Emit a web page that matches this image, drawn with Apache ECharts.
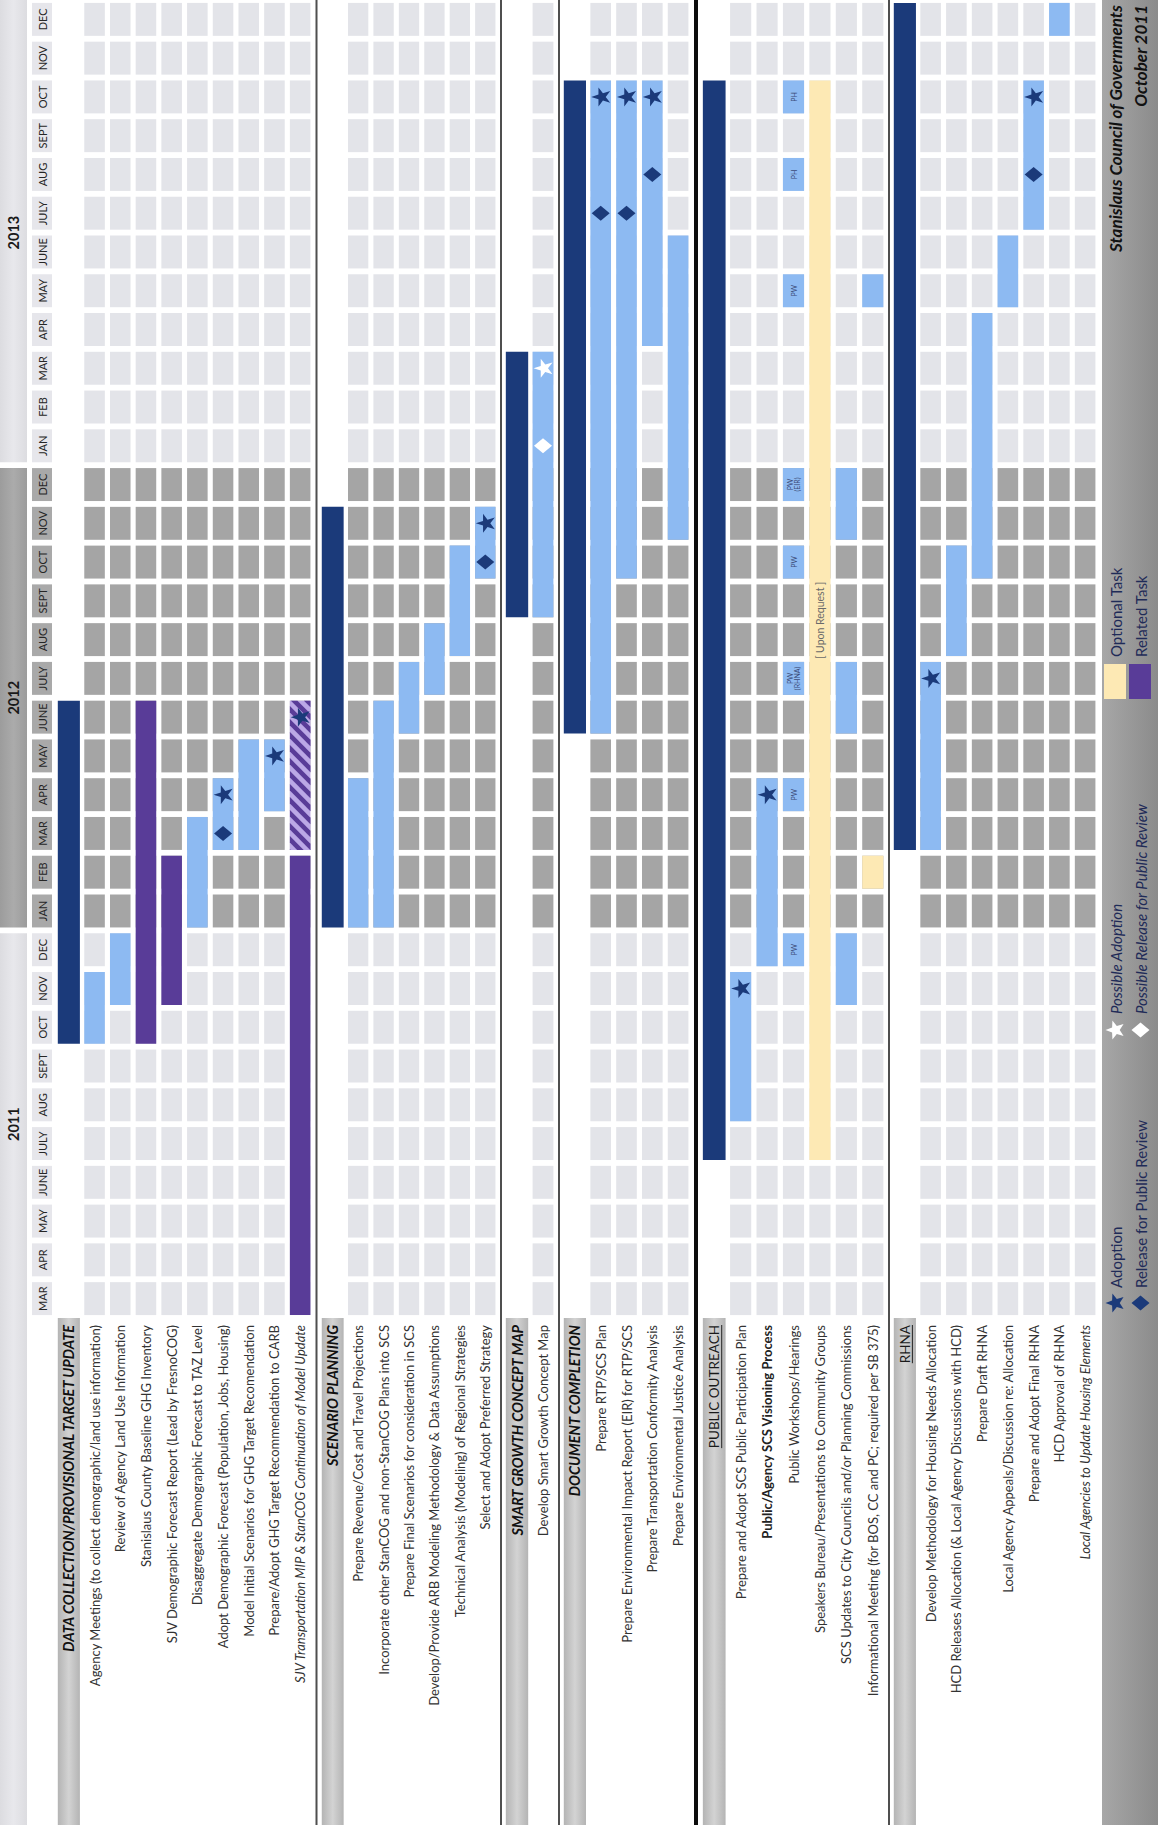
<!DOCTYPE html>
<html>
<head>
<meta charset="utf-8">
<title>SCS / RTP Schedule</title>
<script src="https://cdn.jsdelivr.net/npm/echarts@6.0.0/dist/echarts.min.js"></script>
<style>
html,body{margin:0;padding:0;background:#ffffff;}
#chart{width:1164px;height:1825px;}
</style>
</head>
<body>
<div id="chart"></div>
<script>
// ================= DATA =================
const months = [
  'MAR 2011','APR 2011','MAY 2011','JUNE 2011','JULY 2011','AUG 2011','SEPT 2011','OCT 2011','NOV 2011','DEC 2011',
  'JAN 2012','FEB 2012','MAR 2012','APR 2012','MAY 2012','JUNE 2012','JULY 2012','AUG 2012','SEPT 2012','OCT 2012','NOV 2012','DEC 2012',
  'JAN 2013','FEB 2013','MAR 2013','APR 2013','MAY 2013','JUNE 2013','JULY 2013','AUG 2013','SEPT 2013','OCT 2013','NOV 2013','DEC 2013'
];
const years = ['2011','2012','2013'];

const dataCollectionTasks = [
  'DATA COLLECTION/PROVISIONAL TARGET UPDATE',
  'Agency Meetings (to collect demographic/land use information)',
  'Review of Agency Land Use Information',
  'Stanislaus County Baseline GHG Inventory',
  'SJV Demographic Forecast Report (Lead by FresnoCOG)',
  'Disaggregate Demographic Forecast to TAZ Level',
  'Adopt Demographic Forecast (Population, Jobs, Housing)',
  'Model Initial Scenarios for GHG Target Recomendation',
  'Prepare/Adopt GHG Target Recommendation to CARB',
  'SJV Transportation MIP & StanCOG Continuation of Model Update'
];
const scenarioTasks = [
  'SCENARIO PLANNING',
  'Prepare Revenue/Cost and Travel Projections',
  'Incorporate other StanCOG and non-StanCOG Plans into SCS',
  'Prepare Final Scenarios for consideration in SCS',
  'Develop/Provide ARB Modeling Methodology & Data Assumptions',
  'Technical Analysis (Modeling) of Regional Strategies',
  'Select and Adopt Preferred Strategy'
];
const smartGrowthTasks = [
  'SMART GROWTH CONCEPT MAP',
  'Develop Smart Growth Concept Map'
];
const documentTasks = [
  'DOCUMENT COMPLETION',
  'Prepare RTP/SCS Plan',
  'Prepare Environmental Impact Report (EIR) for RTP/SCS',
  'Prepare Transportation Conformity Analysis',
  'Prepare Environmental Justice Analysis'
];
const outreachTasks = [
  'PUBLIC OUTREACH',
  'Prepare and Adopt SCS Public Participation Plan',
  'Public/Agency SCS Visioning Process',
  'Public Workshops/Hearings',
  'Speakers Bureau/Presentations to Community Groups',
  'SCS Updates to City Councils and/or Planning Commissions',
  'Informational Meeting (for BOS, CC and PC; required per SB 375)'
];
const rhnaTasks = [
  'RHNA',
  'Develop Methodology for Housing Needs Allocation',
  'HCD Releases Allocation (& Local Agency Discussions with HCD)',
  'Prepare Draft RHNA',
  'Local Agency Appeals/Discussion re: Allocation',
  'Prepare and Adopt Final RHNA',
  'HCD Approval of RHNA',
  'Local Agencies to Update Housing Elements'
];

// section spans (dark bars in the section header column)
const phaseBars = [
  ['DATA COLLECTION/PROVISIONAL TARGET UPDATE','OCT 2011','JUNE 2012'],
  ['SCENARIO PLANNING','JAN 2012','NOV 2012'],
  ['SMART GROWTH CONCEPT MAP','SEPT 2012','MAR 2013'],
  ['DOCUMENT COMPLETION','JUNE 2012','OCT 2013'],
  ['PUBLIC OUTREACH','JULY 2011','OCT 2013'],
  ['RHNA','MAR 2012','DEC 2013']
];
// task spans
const taskBars = [
  ['Agency Meetings (to collect demographic/land use information)','OCT 2011','NOV 2011'],
  ['Review of Agency Land Use Information','NOV 2011','DEC 2011'],
  ['Disaggregate Demographic Forecast to TAZ Level','JAN 2012','MAR 2012'],
  ['Adopt Demographic Forecast (Population, Jobs, Housing)','MAR 2012','APR 2012'],
  ['Model Initial Scenarios for GHG Target Recomendation','MAR 2012','MAY 2012'],
  ['Prepare/Adopt GHG Target Recommendation to CARB','APR 2012','MAY 2012'],
  ['Prepare Revenue/Cost and Travel Projections','JAN 2012','APR 2012'],
  ['Incorporate other StanCOG and non-StanCOG Plans into SCS','JAN 2012','JUNE 2012'],
  ['Prepare Final Scenarios for consideration in SCS','JUNE 2012','JULY 2012'],
  ['Develop/Provide ARB Modeling Methodology & Data Assumptions','JULY 2012','AUG 2012'],
  ['Technical Analysis (Modeling) of Regional Strategies','AUG 2012','OCT 2012'],
  ['Select and Adopt Preferred Strategy','OCT 2012','NOV 2012'],
  ['Develop Smart Growth Concept Map','SEPT 2012','MAR 2013'],
  ['Prepare RTP/SCS Plan','JUNE 2012','OCT 2013'],
  ['Prepare Environmental Impact Report (EIR) for RTP/SCS','OCT 2012','OCT 2013'],
  ['Prepare Transportation Conformity Analysis','APR 2013','OCT 2013'],
  ['Prepare Environmental Justice Analysis','NOV 2012','JUNE 2013'],
  ['Prepare and Adopt SCS Public Participation Plan','AUG 2011','NOV 2011'],
  ['Public/Agency SCS Visioning Process','DEC 2011','APR 2012'],
  ['SCS Updates to City Councils and/or Planning Commissions','NOV 2011','DEC 2011'],
  ['SCS Updates to City Councils and/or Planning Commissions','JUNE 2012','JULY 2012'],
  ['SCS Updates to City Councils and/or Planning Commissions','NOV 2012','DEC 2012'],
  ['Informational Meeting (for BOS, CC and PC; required per SB 375)','MAY 2013','MAY 2013'],
  ['Develop Methodology for Housing Needs Allocation','MAR 2012','JULY 2012'],
  ['HCD Releases Allocation (& Local Agency Discussions with HCD)','AUG 2012','OCT 2012'],
  ['Prepare Draft RHNA','OCT 2012','APR 2013'],
  ['Local Agency Appeals/Discussion re: Allocation','MAY 2013','JUNE 2013'],
  ['Prepare and Adopt Final RHNA','JULY 2013','OCT 2013'],
  ['HCD Approval of RHNA','DEC 2013','DEC 2013']
];
// related tasks
const relatedBars = [
  ['Stanislaus County Baseline GHG Inventory','OCT 2011','JUNE 2012'],
  ['SJV Demographic Forecast Report (Lead by FresnoCOG)','NOV 2011','FEB 2012'],
  ['SJV Transportation MIP & StanCOG Continuation of Model Update','MAR 2011','FEB 2012']
];
const relatedHatchedBars = [
  ['SJV Transportation MIP & StanCOG Continuation of Model Update','MAR 2012','JUNE 2012']
];
// optional tasks
const optionalBars = [
  ['Speakers Bureau/Presentations to Community Groups','JULY 2011','OCT 2013','[ Upon Request ]'],
  ['Informational Meeting (for BOS, CC and PC; required per SB 375)','FEB 2012','FEB 2012']
];
// public workshops / hearings
const workshopTask = 'Public Workshops/Hearings';
const workshopMeetings = [
  ['DEC 2011','PW'],
  ['APR 2012','PW'],
  ['JULY 2012','PW\n(RHNA)'],
  ['OCT 2012','PW'],
  ['DEC 2012','PW\n(EIR)'],
  ['MAY 2013','PW'],
  ['AUG 2013','PH'],
  ['OCT 2013','PH']
];

// milestones
const adoptions = [
  ['Adopt Demographic Forecast (Population, Jobs, Housing)','APR 2012'],
  ['Prepare/Adopt GHG Target Recommendation to CARB','MAY 2012'],
  ['SJV Transportation MIP & StanCOG Continuation of Model Update','JUNE 2012'],
  ['Select and Adopt Preferred Strategy','NOV 2012'],
  ['Prepare RTP/SCS Plan','OCT 2013'],
  ['Prepare Environmental Impact Report (EIR) for RTP/SCS','OCT 2013'],
  ['Prepare Transportation Conformity Analysis','OCT 2013'],
  ['Prepare and Adopt SCS Public Participation Plan','NOV 2011'],
  ['Public/Agency SCS Visioning Process','APR 2012'],
  ['Develop Methodology for Housing Needs Allocation','JULY 2012'],
  ['Prepare and Adopt Final RHNA','OCT 2013']
];
const releases = [
  ['Adopt Demographic Forecast (Population, Jobs, Housing)','MAR 2012'],
  ['Select and Adopt Preferred Strategy','OCT 2012'],
  ['Prepare RTP/SCS Plan','JULY 2013'],
  ['Prepare Environmental Impact Report (EIR) for RTP/SCS','JULY 2013'],
  ['Prepare Transportation Conformity Analysis','AUG 2013'],
  ['Prepare and Adopt Final RHNA','AUG 2013']
];
const possibleAdoptions = [['Develop Smart Growth Concept Map','MAR 2013']];
const possibleReleases = [['Develop Smart Growth Concept Map','JAN 2013']];

const legendLabels = ['Adoption','Release for Public Review','Possible Adoption','Possible Release for Public Review','Optional Task','Related Task'];
const footerLines = ['Stanislaus Council of Governments','October 2011'];

// ================= LAYOUT / STYLE =================
const W = 1164, H = 1825, GRID_BOTTOM = 507;
const FONT = 'Lato, "Open Sans", "Noto Sans", sans-serif';
const sections = [dataCollectionTasks, scenarioTasks, smartGrowthTasks, documentTasks, outreachTasks, rhnaTasks];
const sectionBoxes = [[56,257],[320,178],[504,52],[562,129],[701,185],[892,206]]; // [left, width]
const shadedYear = '2012';
const NAVY = '#1b3a7a', BLUE = '#8dbaf2', PURPLE = '#593c98', LAVENDER = '#bba8e6', YELLOW = '#fde9b4';
const KIND_COLORS = [NAVY, BLUE, PURPLE, LAVENDER, YELLOW];
const CELL_LIGHT = '#e3e4e9', CELL_DARK = '#a5a5a5';
const boldHeaders = ['DATA COLLECTION/PROVISIONAL TARGET UPDATE','SCENARIO PLANNING','SMART GROWTH CONCEPT MAP','DOCUMENT COMPLETION'];
const underlinedHeaders = ['PUBLIC OUTREACH','RHNA'];
const boldTasks = ['Public/Agency SCS Visioning Process'];
const italicTasks = ['SJV Transportation MIP & StanCOG Continuation of Model Update','Local Agencies to Update Housing Elements'];
const STAR_PATH = 'path://M50,0 L61.8,35.1 L98.9,35.1 L68.9,56.8 L80.3,91.9 L50,70.2 L19.7,91.9 L31.1,56.8 L1.1,35.1 L38.2,35.1 Z';
const LABEL_SIZE = 13, HEADER_SIZE = 14.5, PLAIN_HEADER_SIZE = 13.5;

const yearOf = i => months[i].split(' ')[1];
const monthLabel = i => months[i].split(' ')[0];
function locate(task){
  for (let s = 0; s < sections.length; s++){ const k = sections[s].indexOf(task); if (k >= 0) return [s, k]; }
  throw new Error('unknown task ' + task);
}
function mIdx(m){ const i = months.indexOf(m); if (i < 0) throw new Error('unknown month ' + m); return i; }
function textWidth(str, font){ const c = document.createElement('canvas').getContext('2d'); c.font = font; return c.measureText(str).width; }

// per-section bar data: [taskIndex, fromMonth, toMonth, kind]
const barData = sections.map(() => []), barNotes = sections.map(() => []);
function addBars(list, kind){
  list.forEach(r => { const [s, k] = locate(r[0]); barData[s].push([k, mIdx(r[1]), mIdx(r[2]), kind]); barNotes[s].push(r[3] || null); });
}
addBars(phaseBars, 0); addBars(taskBars, 1); addBars(relatedBars, 2); addBars(relatedHatchedBars, 3); addBars(optionalBars, 4);
workshopMeetings.forEach(([m, t]) => { const [s, k] = locate(workshopTask); barData[s].push([k, mIdx(m), mIdx(m), 1]); barNotes[s].push(t); });

function markerData(list, s){
  return list.map(r => { const [ss, k] = locate(r[0]); return [ss, k, mIdx(r[1])]; }).filter(a => a[0] === s).map(a => [a[1], a[2]]);
}

// polygon clipping for hatch stripes
function clipPoly(poly, f){
  const out = [];
  for (let i = 0; i < poly.length; i++){
    const P = poly[i], Q = poly[(i + 1) % poly.length];
    const fp = f(P), fq = f(Q);
    if (fp >= 0) out.push(P);
    if ((fp >= 0) !== (fq >= 0)){ const t = fp / (fp - fq); out.push([P[0] + t * (Q[0] - P[0]), P[1] + t * (Q[1] - P[1])]); }
  }
  return out;
}

// ================= RENDERERS =================
function renderYear(params, api){
  const first = api.value(1), last = api.value(2), k = api.value(3);
  const sz = api.size([1, 1]);
  const pTop = api.coord([0, last]), pBot = api.coord([0, first]);
  const ch = sz[1] * 0.85;
  let top = pTop[1] - ch / 2, bottom = pBot[1] + ch / 2;
  const midY = (pTop[1] + pBot[1]) / 2;
  if (k === years.length - 1) top = 0;
  if (k === 0) bottom = api.getHeight();
  const dark = years[k] === shadedYear;
  const x0 = pTop[0] - sz[0] / 2;
  return { type: 'group', children: [
    { type: 'rect', shape: { x: x0, y: top, width: sz[0] - 1, height: bottom - top },
      style: { fill: new echarts.graphic.LinearGradient(0, 0, 1, 0, dark
        ? [{ offset: 0, color: '#9c9c9c' }, { offset: 0.5, color: '#ababab' }, { offset: 1, color: '#9c9c9c' }]
        : [{ offset: 0, color: '#dcdce0' }, { offset: 0.5, color: '#e8e8ec' }, { offset: 1, color: '#dcdce0' }]) } },
    { type: 'text', x: pTop[0] - 1, y: midY, rotation: Math.PI / 2,
      style: { text: years[k], fill: '#1a1a1a', fontSize: 14.5, fontWeight: 'bold', fontFamily: FONT, align: 'center', verticalAlign: 'middle' } }
  ]};
}
function renderMonth(params, api){
  const i = api.value(1);
  const p = api.coord([1, i]); const sz = api.size([1, 1]);
  const w = sz[0] - 8, h = sz[1] * 0.85;
  const dark = yearOf(i) === shadedYear;
  return { type: 'group', children: [
    { type: 'rect', shape: { x: p[0] - w / 2, y: p[1] - h / 2, width: w, height: h }, style: { fill: dark ? '#a9a9a9' : '#e6e6eb' } },
    { type: 'text', x: p[0] + 0.5, y: p[1], rotation: Math.PI / 2,
      style: { text: monthLabel(i), fill: '#262626', fontSize: 11, fontFamily: FONT, align: 'center', verticalAlign: 'middle' } }
  ]};
}
function makeHeaderBand(s){
  return function(params, api){
    const sz = api.size([1, 1]);
    const p = api.coord([0, 0]);
    const top = p[1] + sz[1] / 2;
    const w = sz[0] * 0.86;
    const children = [{ type: 'rect', shape: { x: p[0] - w / 2, y: top, width: w, height: api.getHeight() - top },
      style: { fill: new echarts.graphic.LinearGradient(0, 0, 1, 0, [
        { offset: 0, color: '#b4b4b4' }, { offset: 0.5, color: '#d3d3d3' }, { offset: 1, color: '#b4b4b4' }]) } }];
    const title = sections[s][0];
    if (underlinedHeaders.indexOf(title) >= 0){
      const tw = textWidth(title, PLAIN_HEADER_SIZE + 'px ' + FONT);
      children.push({ type: 'line', shape: { x1: p[0] + 7.5, y1: top + 7, x2: p[0] + 7.5, y2: top + 7 + tw },
        style: { stroke: '#222', lineWidth: 1 } });
    }
    return { type: 'group', children };
  };
}
function renderCell(params, api){
  const k = api.value(0), i = api.value(1);
  const p = api.coord([k, i]); const sz = api.size([1, 1]);
  const w = sz[0] * 0.8, h = sz[1] * 0.85;
  return { type: 'rect', shape: { x: p[0] - w / 2, y: p[1] - h / 2, width: w, height: h },
    style: { fill: yearOf(i) === shadedYear ? CELL_DARK : CELL_LIGHT } };
}
function makeBarRenderer(notes){
  return function(params, api){
    const k = api.value(0), a = api.value(1), b = api.value(2), kind = api.value(3);
    const sz = api.size([1, 1]);
    const pA = api.coord([k, a]), pB = api.coord([k, b]);
    const h = sz[1] * 0.85;
    const w = kind === 0 ? sz[0] * 0.86 : sz[0] * 0.8;
    const x0 = pA[0] - w / 2, y0 = pB[1] - h / 2, y1 = pA[1] + h / 2;
    const children = [{ type: 'rect', shape: { x: x0, y: y0, width: w, height: y1 - y0 }, style: { fill: KIND_COLORS[kind] } }];
    if (kind === 3){
      const rectPoly = [[x0, y0], [x0 + w, y0], [x0 + w, y1], [x0, y1]];
      const step = 13, sw = 6.5;
      for (let c = (y0 - (x0 + w)) - step; c <= (y1 - x0); c += step){
        let poly = clipPoly(rectPoly, q => (q[1] - q[0]) - c);
        poly = clipPoly(poly, q => c + sw - (q[1] - q[0]));
        if (poly.length >= 3) children.push({ type: 'polygon', shape: { points: poly }, style: { fill: PURPLE } });
      }
    }
    const note = notes[params.dataIndex];
    if (note){
      const big = note.indexOf('[') === 0;
      children.push({ type: 'text', x: pA[0], y: (y0 + y1) / 2, rotation: Math.PI / 2,
        style: { text: note, fill: big ? '#6a6a6a' : '#3b4b78', fontSize: big ? 10.5 : 7, lineHeight: big ? 12 : 7.5,
          fontFamily: FONT, align: 'center', verticalAlign: 'middle' } });
    }
    return { type: 'group', children };
  };
}
function starPoints(cx, cy, R, r){
  const pts = [];
  for (let j = 0; j < 10; j++){
    const ang = Math.PI + j * Math.PI / 5, rad = j % 2 === 0 ? R : r;
    pts.push([cx + rad * Math.cos(ang), cy + rad * Math.sin(ang)]);
  }
  return pts;
}
function diamondPoints(cx, cy, hw, hh){ return [[cx - hw, cy], [cx, cy - hh], [cx + hw, cy], [cx, cy + hh]]; }

// ================= OPTION =================
const grids = [{ left: 0, width: 56, top: 0, bottom: GRID_BOTTOM, outerBoundsMode: 'none' }]
  .concat(sectionBoxes.map(b => ({ left: b[0], width: b[1], top: 0, bottom: GRID_BOTTOM, outerBoundsMode: 'none' })));

const xAxes = [{ gridIndex: 0, type: 'category', data: ['year', 'month'], show: false }];
const yAxes = [{ gridIndex: 0, type: 'category', data: months, show: false }];
sections.forEach((tasks, s) => {
  xAxes.push({
    gridIndex: s + 1, type: 'category', z: 10,
    data: tasks.map((t, k) => {
      let ts = {};
      if (k === 0 && boldHeaders.indexOf(t) >= 0) ts = { fontWeight: 'bold', fontStyle: 'italic', fontSize: HEADER_SIZE, color: '#111' };
      else if (k === 0) ts = { fontSize: PLAIN_HEADER_SIZE, color: '#1a1a1a' };
      else if (boldTasks.indexOf(t) >= 0) ts = { fontWeight: 'bold', color: '#222' };
      else if (italicTasks.indexOf(t) >= 0) ts = { fontStyle: 'italic' };
      return { value: t, textStyle: ts };
    }),
    axisLine: { show: false }, axisTick: { show: false }, splitLine: { show: false },
    axisLabel: { interval: 0, rotate: 90, margin: 7, fontSize: LABEL_SIZE, color: '#333', fontFamily: FONT, hideOverlap: false }
  });
  yAxes.push({ gridIndex: s + 1, type: 'category', data: months, show: false });
});

const series = [
  { type: 'custom', name: 'Years', xAxisIndex: 0, yAxisIndex: 0, clip: false, silent: true, z: 1,
    data: years.map((y, k) => [0, months.findIndex(m => m.endsWith(y)), months.length - 1 - [...months].reverse().findIndex(m => m.endsWith(y)), k]),
    renderItem: renderYear },
  { type: 'custom', name: 'Months', xAxisIndex: 0, yAxisIndex: 0, silent: true, z: 1,
    data: months.map((m, i) => [1, i]), renderItem: renderMonth }
];
sections.forEach((tasks, s) => {
  const g = s + 1;
  const cells = [];
  for (let k = 1; k < tasks.length; k++) for (let i = 0; i < months.length; i++) cells.push([k, i]);
  series.push({ type: 'custom', name: tasks[0] + ' band', xAxisIndex: g, yAxisIndex: g, clip: false, silent: true, z: 0,
    data: [[0, 0]], renderItem: makeHeaderBand(s) });
  series.push({ type: 'custom', name: tasks[0] + ' cells', xAxisIndex: g, yAxisIndex: g, silent: true, z: 2,
    data: cells, renderItem: renderCell });
  series.push({ type: 'custom', name: tasks[0] + ' bars', xAxisIndex: g, yAxisIndex: g, silent: true, z: 3,
    data: barData[s], renderItem: makeBarRenderer(barNotes[s]) });
  series.push({ type: 'scatter', name: legendLabels[0], xAxisIndex: g, yAxisIndex: g, silent: true, z: 5,
    symbol: STAR_PATH, symbolRotate: 90, symbolSize: 19, itemStyle: { color: NAVY, opacity: 1 }, data: markerData(adoptions, s) });
  series.push({ type: 'scatter', name: legendLabels[1], xAxisIndex: g, yAxisIndex: g, silent: true, z: 5,
    symbol: 'diamond', symbolSize: [18, 15], itemStyle: { color: NAVY, opacity: 1 }, data: markerData(releases, s) });
  series.push({ type: 'scatter', name: legendLabels[2], xAxisIndex: g, yAxisIndex: g, silent: true, z: 5,
    symbol: STAR_PATH, symbolRotate: 90, symbolSize: 19, itemStyle: { color: '#ffffff', opacity: 1 }, data: markerData(possibleAdoptions, s) });
  series.push({ type: 'scatter', name: legendLabels[3], xAxisIndex: g, yAxisIndex: g, silent: true, z: 5,
    symbol: 'diamond', symbolSize: [18, 15], itemStyle: { color: '#ffffff', opacity: 1 }, data: markerData(possibleReleases, s) });
});

// separators between sections
const graphic = [];
for (let s = 1; s < sectionBoxes.length; s++){
  const prevEnd = sectionBoxes[s - 1][0] + sectionBoxes[s - 1][1];
  const x = (prevEnd + sectionBoxes[s][0]) / 2;
  const thick = sections[s][0] === 'PUBLIC OUTREACH';
  graphic.push({ type: 'line', z: 20, silent: true, shape: { x1: x, y1: 0, x2: x, y2: H },
    style: { stroke: thick ? '#0d0d0d' : '#4f4f4f', lineWidth: thick ? 4 : 2 } });
}
// legend / footer band
const LX = 1102, LW = 56, C1 = 1115.5, C2 = 1140.5;
const LEG_TEXT = '#1f2b58';
const LEG_SIZE = 15;
graphic.push({ type: 'rect', z: 1, silent: true, shape: { x: LX, y: 0, width: LW, height: H },
  style: { fill: new echarts.graphic.LinearGradient(0, 0, 1, 0, [{ offset: 0, color: '#a7a7a7' }, { offset: 1, color: '#8b8b8b' }]) } });
graphic.push({ type: 'text', z: 21, silent: true, x: C1, y: 5, rotation: Math.PI / 2,
  style: { text: footerLines[0], fill: '#111', fontSize: 17, fontWeight: 'bold', fontStyle: 'italic', fontFamily: FONT, align: 'right', verticalAlign: 'middle' } });
graphic.push({ type: 'text', z: 21, silent: true, x: C2, y: 5, rotation: Math.PI / 2,
  style: { text: footerLines[1], fill: '#111', fontSize: 17, fontWeight: 'bold', fontStyle: 'italic', fontFamily: FONT, align: 'right', verticalAlign: 'middle' } });
// optional / related swatches
graphic.push({ type: 'rect', z: 21, silent: true, shape: { x: LX + 2, y: 664, width: 22, height: 35 }, style: { fill: YELLOW } });
graphic.push({ type: 'rect', z: 21, silent: true, shape: { x: LX + 27, y: 664, width: 22, height: 35 }, style: { fill: PURPLE } });
graphic.push({ type: 'text', z: 21, silent: true, x: C1, y: 657, rotation: Math.PI / 2,
  style: { text: legendLabels[4], fill: LEG_TEXT, fontSize: LEG_SIZE, fontFamily: FONT, align: 'left', verticalAlign: 'middle' } });
graphic.push({ type: 'text', z: 21, silent: true, x: C2, y: 657, rotation: Math.PI / 2,
  style: { text: legendLabels[5], fill: LEG_TEXT, fontSize: LEG_SIZE, fontFamily: FONT, align: 'left', verticalAlign: 'middle' } });
// possible adoption / release
graphic.push({ type: 'polygon', z: 21, silent: true, shape: { points: starPoints(C1, 1030, 10, 4.2) }, style: { fill: '#ffffff' } });
graphic.push({ type: 'polygon', z: 21, silent: true, shape: { points: diamondPoints(C2, 1030, 9, 7.5) }, style: { fill: '#ffffff' } });
graphic.push({ type: 'text', z: 21, silent: true, x: C1, y: 1014, rotation: Math.PI / 2,
  style: { text: legendLabels[2], fill: LEG_TEXT, fontSize: LEG_SIZE, fontStyle: 'italic', fontFamily: FONT, align: 'left', verticalAlign: 'middle' } });
graphic.push({ type: 'text', z: 21, silent: true, x: C2, y: 1014, rotation: Math.PI / 2,
  style: { text: legendLabels[3], fill: LEG_TEXT, fontSize: LEG_SIZE, fontStyle: 'italic', fontFamily: FONT, align: 'left', verticalAlign: 'middle' } });
// adoption / release
graphic.push({ type: 'polygon', z: 21, silent: true, shape: { points: starPoints(C1, 1303, 10, 4.2) }, style: { fill: NAVY } });
graphic.push({ type: 'polygon', z: 21, silent: true, shape: { points: diamondPoints(C2, 1303, 9, 7.5) }, style: { fill: NAVY } });
graphic.push({ type: 'text', z: 21, silent: true, x: C1, y: 1288, rotation: Math.PI / 2,
  style: { text: legendLabels[0], fill: LEG_TEXT, fontSize: LEG_SIZE, fontFamily: FONT, align: 'left', verticalAlign: 'middle' } });
graphic.push({ type: 'text', z: 21, silent: true, x: C2, y: 1288, rotation: Math.PI / 2,
  style: { text: legendLabels[1], fill: LEG_TEXT, fontSize: LEG_SIZE, fontFamily: FONT, align: 'left', verticalAlign: 'middle' } });

const chart = echarts.init(document.getElementById('chart'), null, { renderer: 'svg', width: W, height: H });
chart.setOption({
  animation: false,
  backgroundColor: '#ffffff',
  textStyle: { fontFamily: FONT },
  grid: grids,
  xAxis: xAxes,
  yAxis: yAxes,
  series: series,
  graphic: graphic
});
</script>
</body>
</html>
